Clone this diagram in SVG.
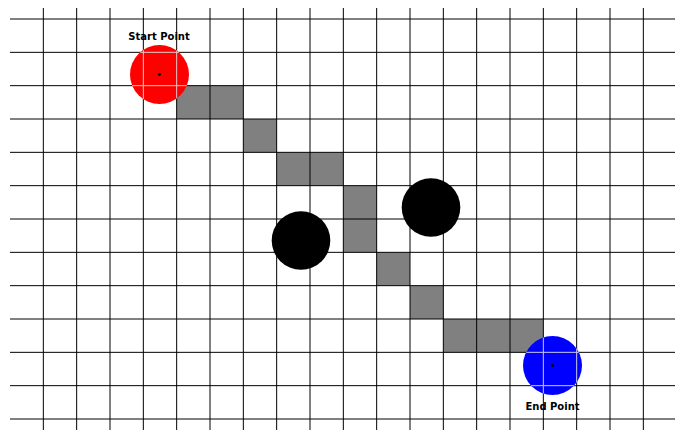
<svg xmlns="http://www.w3.org/2000/svg" xmlns:xlink="http://www.w3.org/1999/xlink" width="675" height="430" viewBox="0 0 675 430">
  <style>
    .cell { fill: #808080; }
    .label { font-family: "DejaVu Sans", "Liberation Sans", sans-serif; font-size: 10px; font-weight: bold; fill: #000; text-anchor: middle; }
    .obstacle { fill: #000; }
    .dot { fill: #000; }
  </style>
  <defs>
    <path id="gridlines" fill="none" d="M43.33 8V430M76.67 8V430M110 8V430M143.33 8V430M176.67 8V430M210 8V430M243.33 8V430M276.67 8V430M310 8V430M343.33 8V430M376.67 8V430M410 8V430M443.33 8V430M476.67 8V430M510 8V430M543.33 8V430M576.67 8V430M610 8V430M643.33 8V430M10 19H675M10 52.33H675M10 85.67H675M10 119H675M10 152.33H675M10 185.67H675M10 219H675M10 252.33H675M10 285.67H675M10 319H675M10 352.33H675M10 385.67H675M10 419H675"/>
    <clipPath id="clipStart"><circle cx="159.5" cy="74.5" r="29.5"/></clipPath>
    <clipPath id="clipEnd"><circle cx="552.5" cy="365.5" r="29.5"/></clipPath>
  </defs>
  <rect width="675" height="430" fill="#fff"/>
  <g id="path-cells">
    <rect class="cell" x="176.67" y="85.67" width="66.67" height="33.33"/>
    <rect class="cell" x="243.33" y="119" width="33.33" height="33.33"/>
    <rect class="cell" x="276.67" y="152.33" width="66.67" height="33.33"/>
    <rect class="cell" x="343.33" y="185.67" width="33.33" height="66.67"/>
    <rect class="cell" x="376.67" y="252.33" width="33.33" height="33.33"/>
    <rect class="cell" x="410" y="285.67" width="33.33" height="33.33"/>
    <rect class="cell" x="443.33" y="319" width="100" height="33.33"/>
  </g>
  <g id="labels">
    <text class="label" x="159" y="39.5">Start Point</text>
    <text class="label" x="552.5" y="409.5">End Point</text>
  </g>
  <g id="grid" stroke="#000" stroke-width="1">
    <use xlink:href="#gridlines" href="#gridlines"/>
  </g>
  <g id="obstacle-1"><circle class="obstacle" cx="301" cy="240.5" r="29.3"/></g>
  <g id="obstacle-2"><circle class="obstacle" cx="431" cy="207.5" r="29.3"/></g>
  <g id="start-point">
    <circle cx="159.5" cy="74.5" r="29.5" fill="#ff0000"/>
    <use xlink:href="#gridlines" href="#gridlines" stroke="#e0c8c8" stroke-width="1" clip-path="url(#clipStart)"/>
    <circle class="dot" cx="159.5" cy="74.5" r="1.4"/>
  </g>
  <g id="end-point">
    <circle cx="552.5" cy="365.5" r="29.5" fill="#0000ff"/>
    <use xlink:href="#gridlines" href="#gridlines" stroke="#c8c8e8" stroke-width="1" clip-path="url(#clipEnd)"/>
    <circle class="dot" cx="552.5" cy="365.5" r="1.4"/>
  </g>
  <g id="connectors"></g>
</svg>
